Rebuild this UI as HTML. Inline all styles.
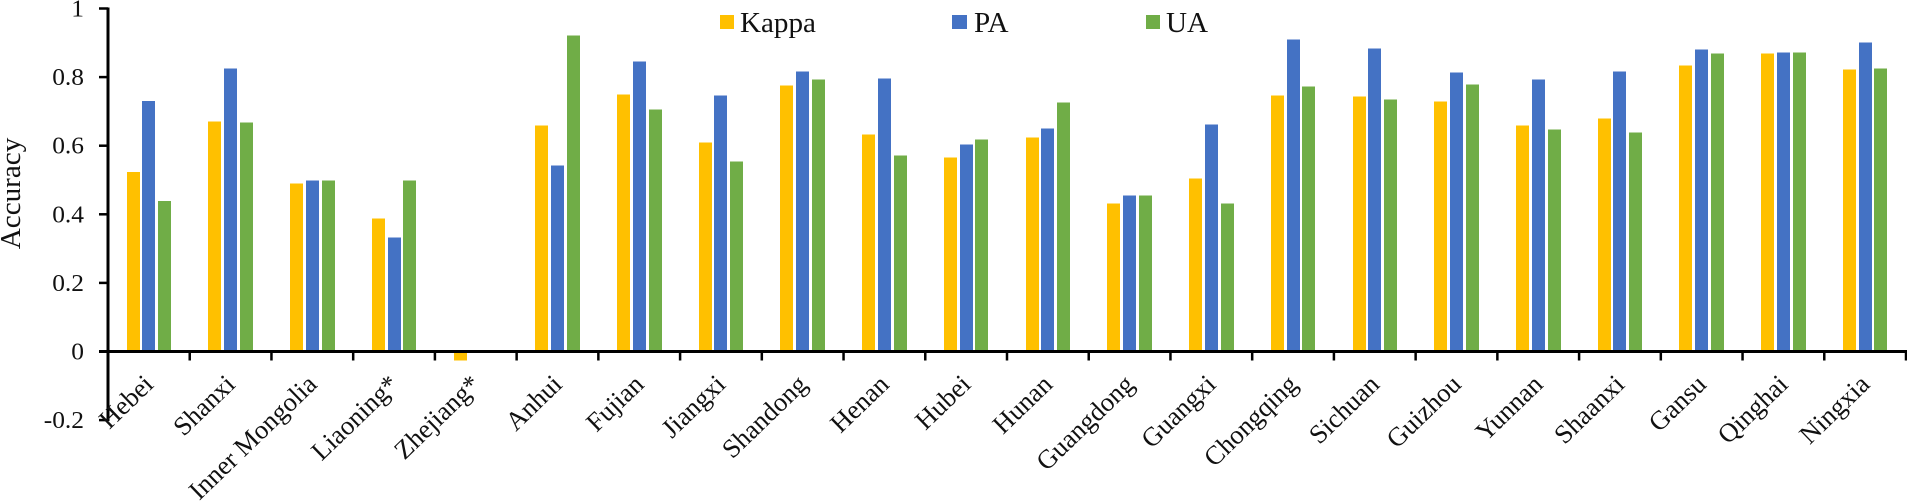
<!DOCTYPE html>
<html lang="en">
<head>
<meta charset="utf-8">
<title>Accuracy by province</title>
<style>
html,body{margin:0;padding:0;background:#fff;width:1907px;height:504px;overflow:hidden}
svg{display:block}
text{font-family:"Liberation Serif",serif;fill:#111}
</style>
</head>
<body>
<svg id="chart" xmlns="http://www.w3.org/2000/svg" width="1907" height="504" viewBox="0 0 1907 504">
  <g id="bars"></g>
  <g id="axes"></g>
  <g id="labels"></g>
  <text transform="translate(20,193.5) rotate(-90) scale(1.04,1)" text-anchor="middle" font-size="28">Accuracy</text>
  <g>
    <rect x="720" y="15" width="14" height="14" fill="#FFC000"/>
    <text transform="translate(740,32) scale(1.04,1)" font-size="28">Kappa</text>
    <rect x="952" y="15" width="15" height="14" fill="#4472C4"/>
    <text transform="translate(974,32) scale(1.04,1)" font-size="28">PA</text>
    <rect x="1146" y="15" width="14" height="14" fill="#70AD47"/>
    <text transform="translate(1166,32) scale(1.04,1)" font-size="28">UA</text>
  </g>
</svg>
<script>
const categories = ["Hebei","Shanxi","Inner Mongolia","Liaoning*","Zhejiang*","Anhui","Fujian","Jiangxi","Shandong","Henan","Hubei","Hunan","Guangdong","Guangxi","Chongqing","Sichuan","Guizhou","Yunnan","Shaanxi","Gansu","Qinghai","Ningxia"];
const kappa = [0.523,0.671,0.490,0.388,-0.026,0.659,0.749,0.609,0.775,0.633,0.566,0.624,0.431,0.504,0.746,0.743,0.729,0.659,0.679,0.834,0.869,0.822];
const pa = [0.730,0.825,0.499,0.332,0,0.542,0.845,0.746,0.816,0.796,0.603,0.650,0.455,0.662,0.910,0.883,0.813,0.793,0.816,0.880,0.872,0.901];
const ua = [0.439,0.668,0.499,0.499,0,0.921,0.706,0.554,0.793,0.571,0.618,0.726,0.455,0.431,0.773,0.735,0.778,0.647,0.638,0.869,0.872,0.825];
const yTicks = [1,0.8,0.6,0.4,0.2,0,-0.2];
const yTickLabels = ["1","0.8","0.6","0.4","0.2","0","-0.2"];

const NS = "http://www.w3.org/2000/svg";
const plot = {left:108, right:1906, zeroY:351.5, unit:343};
const bandWidth = (plot.right - plot.left) / categories.length;
const barWidth = 13, barStep = 15.8, barStart = 18.6;
const xAxis = function (i) { return plot.left + bandWidth * i; };
const yAxis = function (v) { return plot.zeroY - plot.unit * v; };

const barsG = document.getElementById("bars");
const axesG = document.getElementById("axes");
const labelsG = document.getElementById("labels");

function make(tag, parent, attrs) {
  const el = document.createElementNS(NS, tag);
  for (const k in attrs) el.setAttribute(k, attrs[k]);
  parent.appendChild(el);
  return el;
}

const series = [
  {key:"kappa", values:kappa, color:"#FFC000"},
  {key:"pa", values:pa, color:"#4472C4"},
  {key:"ua", values:ua, color:"#70AD47"}
];

series.forEach(function (s, si) {
  s.values.forEach(function (v, i) {
    if (v === 0) return;
    const x = Math.round(xAxis(i) + barStart + barStep * si);
    const y0 = yAxis(0), y1 = yAxis(v);
    const bar = make("rect", barsG, {
      x: x,
      y: v >= 0 ? y1 : y0,
      width: barWidth,
      height: Math.abs(y0 - y1),
      fill: s.color,
      "shape-rendering": "crispEdges"
    });
    
    
  });
});

const yLine = make("line", axesG, {x1:plot.left, x2:plot.left, y1:yAxis(1)-1, y2:yAxis(-0.2)+1, stroke:"#000", "stroke-width":3});



const xLine = make("line", axesG, {x1:plot.left-9, x2:plot.right+1, y1:yAxis(0), y2:yAxis(0), stroke:"#000", "stroke-width":3});



yTicks.forEach(function (v, i) {
  const y = yAxis(v);
  const tick = make("line", axesG, {x1:plot.left-9, x2:plot.left, y1:y, y2:y, stroke:"#000", "stroke-width":2.5});
  
  
  const label = make("text", labelsG, {"text-anchor":"end", "font-size":24, transform:"translate(84," + (y + 8) + ") scale(1.06,1)"});
  label.textContent = yTickLabels[i];
  
  
});

for (let i = 1; i <= categories.length; i++) {
  const x = xAxis(i);
  const tick = make("line", axesG, {x1:x, x2:x, y1:yAxis(0), y2:yAxis(0)+9, stroke:"#000", "stroke-width":2.5});
  
  
}

categories.forEach(function (c, i) {
  const x = xAxis(i) + bandWidth / 2 + 6;
  const label = make("text", labelsG, {"text-anchor":"end", "font-size":26.5, transform:"translate(" + x + ",386) rotate(-44)"});
  label.textContent = c;
  
  
});
</script>
</body>
</html>
